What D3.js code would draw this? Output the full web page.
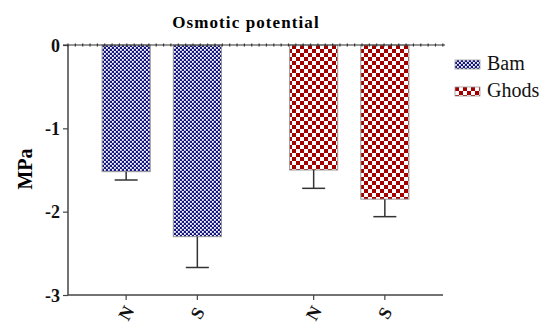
<!DOCTYPE html>
<html>
<head>
<meta charset="utf-8">
<script src="https://cdn.jsdelivr.net/npm/d3@7/dist/d3.min.js"></script>
<style>
  body { margin: 0; background: #fff; }
</style>
</head>
<body>
<div id="chart"></div>
<script>
var cultivars = ["Bam", "Ghods"];
var treatments = ["N", "S"];
var bamMean = [-1.52, -2.30];
var bamErr = [0.10, 0.37];
var ghodsMean = [-1.50, -1.85];
var ghodsErr = [0.22, 0.21];
var yTicks = [0, -1, -2, -3];

var serif = "'Liberation Serif', 'Times New Roman', 'DejaVu Serif', serif";

var data = [];
cultivars.forEach(function(c, i) {
  var m = i === 0 ? bamMean : ghodsMean;
  var e = i === 0 ? bamErr : ghodsErr;
  treatments.forEach(function(t, j) {
    data.push({cult: c, treat: t, mean: m[j], err: e[j]});
  });
});

var W = 544, H = 325;
var margin = {top: 45, right: 101, bottom: 30, left: 68},
    width = W - margin.left - margin.right,
    height = H - margin.top - margin.bottom;

var svg = d3.select("#chart").append("svg")
    .attr("width", W)
    .attr("height", H)
    .style("font-family", serif);

var defs = svg.append("defs");
var pb = defs.append("pattern").attr("id", "patBam")
    .attr("patternUnits", "userSpaceOnUse").attr("width", 4).attr("height", 4);
pb.append("rect").attr("width", 4).attr("height", 4).attr("fill", "#16167f");
pb.append("rect").attr("width", 1.8).attr("height", 1.8).attr("fill", "#fff");
pb.append("rect").attr("x", 2).attr("y", 2).attr("width", 1.8).attr("height", 1.8).attr("fill", "#fff");

var pg = defs.append("pattern").attr("id", "patGhods")
    .attr("patternUnits", "userSpaceOnUse").attr("width", 8).attr("height", 8);
pg.append("rect").attr("width", 8).attr("height", 8).attr("fill", "#fff");
pg.append("rect").attr("width", 4).attr("height", 4).attr("fill", "#a30000");
pg.append("rect").attr("x", 4).attr("y", 4).attr("width", 4).attr("height", 4).attr("fill", "#a30000");

var fills = {Bam: "url(#patBam)", Ghods: "url(#patGhods)"};

var g = svg.append("g")
    .attr("transform", "translate(" + margin.left + "," + margin.top + ")");

var x0 = d3.scaleBand().domain(cultivars).range([0, width]).paddingInner(0).paddingOuter(0);
var x1 = d3.scaleBand().domain(treatments).range([0, x0.bandwidth()])
    .paddingInner(0.324).paddingOuter(0.479);
var y = d3.scaleLinear().domain([-3, 0]).range([height, 0]);

function cx(d) { return x0(d.cult) + x1(d.treat) + x1.bandwidth() / 2; }

// bars
g.selectAll(".bar")
  .data(data)
  .enter().append("rect")
    .attr("class", "bar")
    .attr("x", function(d) { return x0(d.cult) + x1(d.treat); })
    .attr("y", y(0))
    .attr("width", x1.bandwidth())
    .attr("height", function(d) { return y(d.mean) - y(0); })
    .attr("fill", function(d) { return fills[d.cult]; })
    .attr("stroke", "#999")
    .attr("stroke-width", 1);

// error bars
var eb = g.selectAll(".err").data(data).enter().append("g")
    .attr("stroke", "#333").attr("stroke-width", 1.5);
eb.append("line")
    .attr("x1", cx).attr("x2", cx)
    .attr("y1", function(d) { return y(d.mean); })
    .attr("y2", function(d) { return y(d.mean - d.err); });
eb.append("line")
    .attr("x1", function(d) { return cx(d) - 11.5; })
    .attr("x2", function(d) { return cx(d) + 11.5; })
    .attr("y1", function(d) { return y(d.mean - d.err); })
    .attr("y2", function(d) { return y(d.mean - d.err); });

// y axis
var yAxis = g.append("g")
    .call(d3.axisLeft(y).tickValues(yTicks)
      .tickFormat(function(d) { return String(d); })
      .tickSize(5).tickPadding(3));
yAxis.attr("font-family", null).attr("font-size", null);
yAxis.select(".domain").attr("stroke", "#444").attr("stroke-width", 1.5).attr("d", "M0," + height + "V0");
yAxis.selectAll(".tick line").attr("stroke", "#444").attr("stroke-width", 1.2);
yAxis.selectAll(".tick text")
    .style("font-family", serif)
    .style("font-size", "18px").style("font-weight", "bold")
    .attr("fill", "#111").attr("dy", "0.35em");

// zero line with minor ticks
g.append("line")
    .attr("x1", -5).attr("x2", width + 2)
    .attr("y1", y(0)).attr("y2", y(0))
    .attr("stroke", "#333").attr("stroke-width", 1.2);
g.selectAll(".minor")
  .data(d3.range(0, width, 7.35))
  .enter().append("line")
    .attr("x1", function(d) { return d; }).attr("x2", function(d) { return d; })
    .attr("y1", y(0) - 1.5).attr("y2", y(0) + 1.5)
    .attr("stroke", "#333").attr("stroke-width", 1.2);

// x axis at bottom
var xg = g.append("g").attr("transform", "translate(0," + height + ")");
xg.append("line").attr("x1", 0).attr("x2", width)
    .attr("stroke", "#444").attr("stroke-width", 1.5);
var xt = xg.selectAll(".xt").data(data).enter().append("g")
    .attr("transform", function(d) { return "translate(" + cx(d) + ",0)"; });
xt.append("line").attr("y2", 5).attr("stroke", "#444").attr("stroke-width", 1.2);
xt.append("text")
    .attr("transform", "translate(0,18) rotate(-60)")
    .attr("text-anchor", "middle")
    .attr("dy", "0.35em")
    .style("font-size", "18px").style("font-weight", "bold")
    .attr("fill", "#111")
    .text(function(d) { return d.treat; });

// title
svg.append("text")
    .attr("x", 246).attr("y", 28)
    .attr("text-anchor", "middle")
    .style("font-size", "17px").style("font-weight", "bold")
    .style("letter-spacing", "1.1px")
    .text("Osmotic potential");

// y label
svg.append("text")
    .attr("transform", "translate(32," + (margin.top + height / 2 - 1) + ") rotate(-90)")
    .attr("text-anchor", "middle")
    .style("font-size", "20px").style("font-weight", "bold")
    .text("MPa");

// legend
var leg = svg.selectAll(".leg").data(cultivars).enter().append("g")
    .attr("transform", function(d, i) { return "translate(455," + (60 + i * 27) + ")"; });
leg.append("rect").attr("width", 25).attr("height", 9)
    .attr("fill", function(d) { return fills[d]; })
    .attr("stroke", "#999").attr("stroke-width", 0.8);
leg.append("text").attr("x", 32).attr("y", 10)
    .style("font-size", "20px")
    .attr("fill", "#111")
    .text(function(d) { return d; });
</script>
</body>
</html>
